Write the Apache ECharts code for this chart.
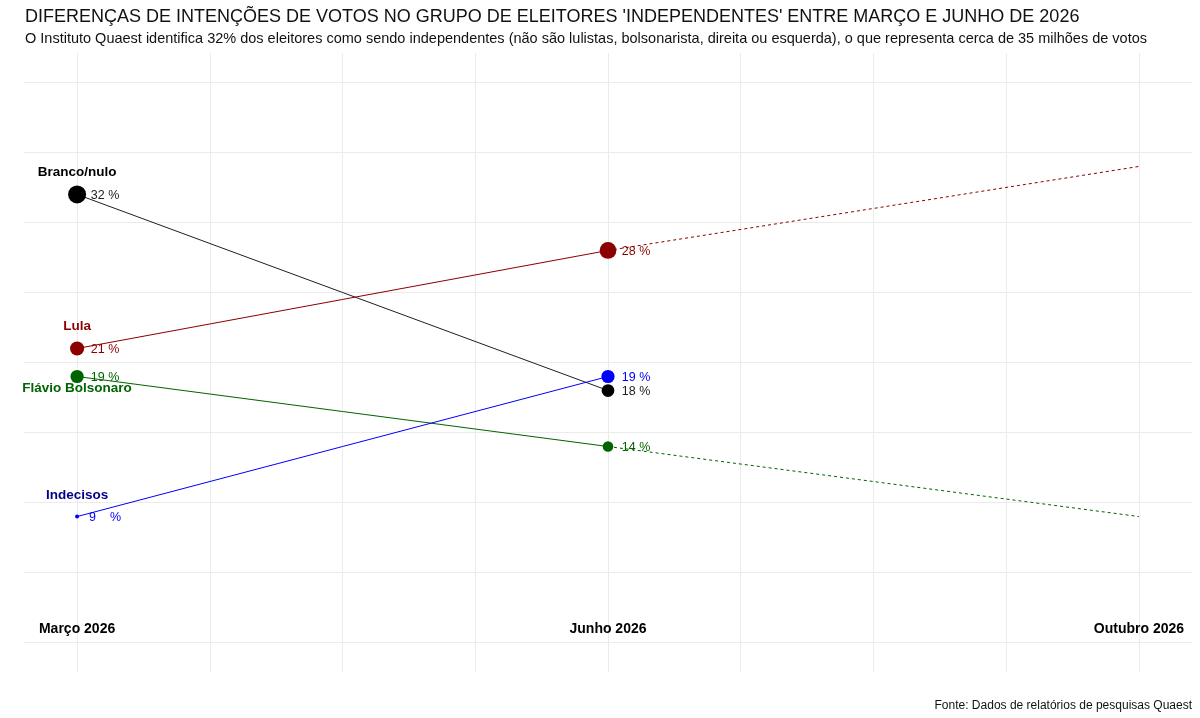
<!DOCTYPE html>
<html>
<head>
<meta charset="utf-8">
<script src="https://cdn.jsdelivr.net/npm/echarts@6/dist/echarts.min.js"></script>
<style>
html,body{margin:0;padding:0;background:#fff;}
#chart{width:1200px;height:718px;}
</style>
</head>
<body>
<div id="chart"></div>
<script>
// ---- Data ----
const groups = ['Branco/nulo', 'Lula', 'Flávio Bolsonaro', 'Indecisos'];
const marco = [32, 21, 19, 9];
const junho = [18, 28, 14, 19];
const projGroups = ['Lula', 'Flávio Bolsonaro'];
const outubroProj = [34, 9];
const periods = ['Março 2026', 'Junho 2026', 'Outubro 2026'];
const periodPos = [1, 2, 3];
const yGridTicks = [0, 5, 10, 15, 20, 25, 30, 35, 40];
const xGridTicks = [1, 1.25, 1.5, 1.75, 2, 2.25, 2.5, 2.75, 3];

// ---- Styles ----
const styles = {
  'Branco/nulo':      { line: '#1f1f1f', point: '#000000', pct: '#222222', name: '#000000', nameOffset: -22 },
  'Lula':             { line: '#8B0000', point: '#8B0000', pct: '#8B0000', name: '#8B0000', nameOffset: -22 },
  'Flávio Bolsonaro': { line: '#006400', point: '#006400', pct: '#006400', name: '#006400', nameOffset: 12 },
  'Indecisos':        { line: '#0000FF', point: '#0000FF', pct: '#0000FF', name: '#00008B', nameOffset: -21 }
};
const FONT = '"Liberation Sans", Arial, sans-serif';

// size scale (area-proportional, like ggplot scale_size)
const allVals = marco.concat(junho);
const vMin = Math.min(...allVals), vMax = Math.max(...allVals);
const sMin = 4, sMax = 18;
function sizeOf(v) { return sMin + Math.sqrt((v - vMin) / (vMax - vMin)) * (sMax - sMin); }
function pctText(v) { return v < 10 ? v + '    %' : v + ' %'; }

const series = [];
// solid lines March -> June
groups.forEach((g, i) => {
  series.push({
    type: 'line', name: g + ' linha', symbol: 'none', silent: true, z: 2,
    lineStyle: { color: styles[g].line, width: 1 },
    data: [[periodPos[0], marco[i]], [periodPos[1], junho[i]]]
  });
});
// dashed projections June -> October
projGroups.forEach((g, k) => {
  const i = groups.indexOf(g);
  series.push({
    type: 'line', name: g + ' projeção', symbol: 'none', silent: true, z: 2,
    lineStyle: { color: styles[g].line, width: 1, type: [3, 3] },
    data: [[periodPos[1], junho[i]], [periodPos[2], outubroProj[k]]]
  });
});
// points with percent labels
groups.forEach((g, i) => {
  series.push({
    type: 'scatter', name: g, z: 4,
    symbolSize: (val) => sizeOf(val[1]),
    itemStyle: { color: styles[g].point, opacity: 1 },
    label: {
      show: true, position: 'inside', offset: [28, 1], align: 'center', verticalAlign: 'middle',
      fontFamily: FONT, fontSize: 12.5, color: styles[g].pct, opacity: 1,
      formatter: (p) => pctText(p.value[1])
    },
    data: [[periodPos[0], marco[i]], [periodPos[1], junho[i]]]
  });
});
// group names near March points
series.push({
  type: 'scatter', name: 'nomes', z: 5, symbolSize: 0, silent: true,
  itemStyle: { opacity: 1 },
  data: groups.map((g, i) => ({
    value: [periodPos[0], marco[i]],
    label: {
      show: true, position: 'inside', offset: [0, styles[g].nameOffset],
      align: 'center', verticalAlign: 'middle', opacity: 1,
      color: styles[g].name, fontWeight: 'bold', fontSize: 13.5, fontFamily: FONT,
      formatter: g
    }
  }))
});

const chart = echarts.init(document.getElementById('chart'), null, { renderer: 'canvas' });
chart.setOption({
  backgroundColor: '#ffffff',
  animation: false,
  title: [
    { text: "DIFERENÇAS DE INTENÇÕES DE VOTOS NO GRUPO DE ELEITORES 'INDEPENDENTES' ENTRE MARÇO E JUNHO DE 2026",
      left: 25, top: 8, padding: 0, textStyle: { fontFamily: FONT, fontSize: 18, fontWeight: 'normal', color: '#111' } },
    { text: 'O Instituto Quaest identifica 32% dos eleitores como sendo independentes (não são lulistas, bolsonarista, direita ou esquerda), o que representa cerca de 35 milhões de votos',
      left: 25, top: 31, padding: 0, textStyle: { fontFamily: FONT, fontSize: 14.5, fontWeight: 'normal', color: '#111' } },
    { text: 'Fonte: Dados de relatórios de pesquisas Quaest',
      right: 8, top: 700, padding: 0, textStyle: { fontFamily: FONT, fontSize: 12, fontWeight: 'normal', color: '#111' } }
  ],
  grid: { left: 24, right: 8, top: 53, bottom: 46, containLabel: false },
  xAxis: {
    type: 'value', min: 0.9, max: 3.1,
    axisLine: { show: false },
    axisTick: { show: false, customValues: xGridTicks },
    axisLabel: {
      customValues: periodPos, margin: -43, verticalAlign: 'middle',
      fontFamily: FONT, fontSize: 14, fontWeight: 'bold', color: '#000',
      formatter: (v) => periods[periodPos.indexOf(v)] || ''
    },
    splitLine: { show: true, lineStyle: { color: '#ebebeb', width: 1 } }
  },
  yAxis: {
    type: 'value', min: -2.1, max: 42.1,
    axisLine: { show: false },
    axisTick: { show: false, customValues: yGridTicks },
    axisLabel: { show: false },
    splitLine: { show: true, lineStyle: { color: '#ebebeb', width: 1 } }
  },
  series: series
});
</script>
</body>
</html>
